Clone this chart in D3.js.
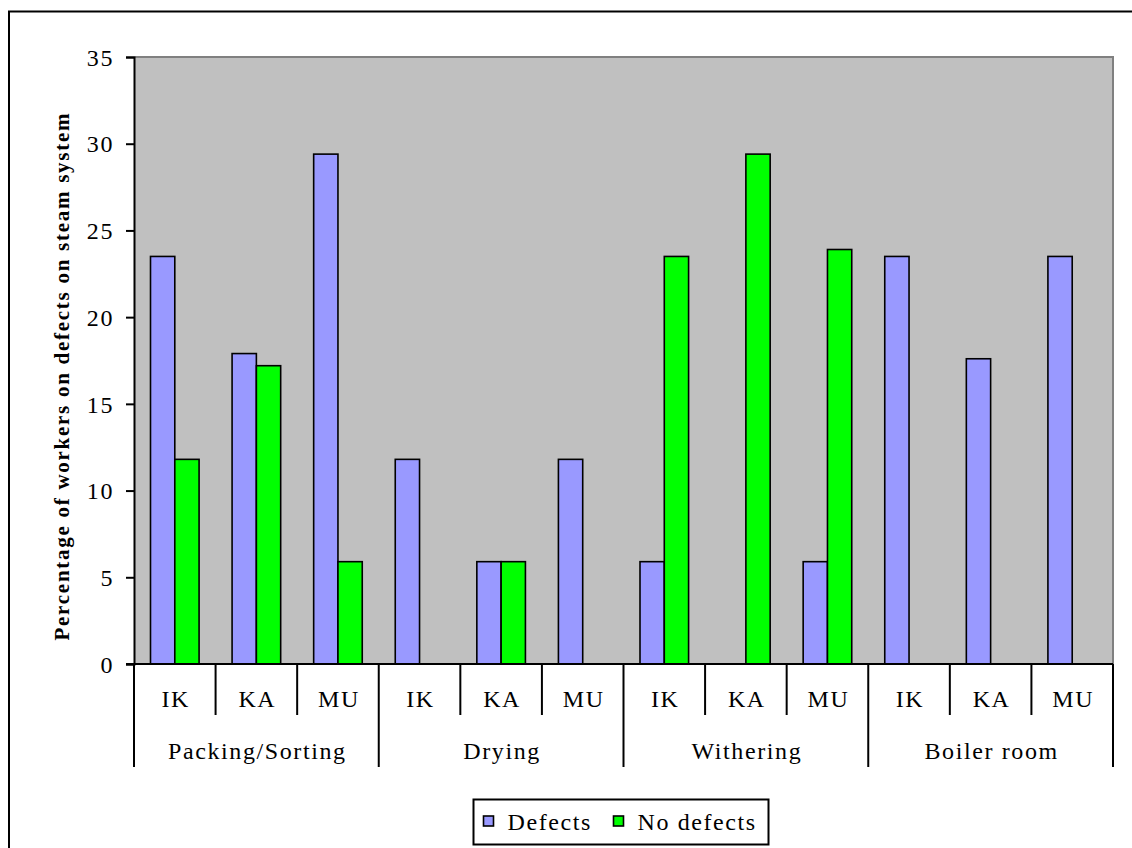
<!DOCTYPE html>
<html>
<head>
<meta charset="utf-8">
<script src="https://cdn.jsdelivr.net/npm/d3@7"></script>
<style>
  html, body { margin: 0; padding: 0; background: #fff; }
  svg { display: block; }
  svg text { font-family: "Liberation Serif", Tinos, "Times New Roman", serif; fill: #000; }
</style>
</head>
<body>
<svg id="chart" width="1132" height="848"></svg>
<script>
// Work areas and sites
const groups = ["Packing/Sorting", "Drying", "Withering", "Boiler room"];
const sites = ["IK", "KA", "MU"];
const seriesNames = ["Defects", "No defects"];
const seriesColors = ["#9999ff", "#00ff00"];

// Percentage of workers per site, in group order (IK, KA, MU for each area)
const defects   = [23.5, 17.9, 29.4,  11.8, 5.9, 11.8,  5.9, 0, 5.9,    23.5, 17.6, 23.5];
const noDefects = [11.8, 17.2, 5.9,   0,    5.9, 0,     23.5, 29.4, 23.9, 0, 0, 0];

const yTicks = [0, 5, 10, 15, 20, 25, 30, 35];

const FONT = '"Liberation Serif", Tinos, "Times New Roman", serif';
const LABEL_SIZE = "24px";
const LABEL_SPACING = "1.6px";

const svg = d3.select("#chart");
const plot = { left: 134, right: 1113, top: 57, bottom: 664 };

// Outer chart frame
svg.append("rect")
  .attr("x", 9).attr("y", 11.5)
  .attr("width", 1140).attr("height", 860)
  .attr("fill", "#fff").attr("stroke", "#000").attr("stroke-width", 2);

// Flattened category keys
const cats = [];
groups.forEach((g, gi) => sites.forEach((s, si) => cats.push({ group: g, site: s, key: g + "|" + s, i: gi * 3 + si })));

const x = d3.scaleBand().domain(cats.map(c => c.key)).range([plot.left, plot.right]).padding(0);
const xs = d3.scaleBand().domain(seriesNames)
  .range([16.5, x.bandwidth() - 16.5]).padding(0);
const y = d3.scaleLinear().domain([0, 35]).range([plot.bottom, plot.top]);

// Plot background
svg.append("rect")
  .attr("x", plot.left).attr("y", plot.top)
  .attr("width", plot.right - plot.left).attr("height", plot.bottom - plot.top)
  .attr("fill", "#c0c0c0");
// grey top and right edges
svg.append("path")
  .attr("d", `M${plot.left},${plot.top}H${plot.right}V${plot.bottom}`)
  .attr("fill", "none").attr("stroke", "#808080").attr("stroke-width", 2);

// Bars
const values = [defects, noDefects];
const barG = svg.append("g");
seriesNames.forEach((name, si) => {
  barG.selectAll(null)
    .data(cats)
    .enter().append("rect")
    .attr("x", d => x(d.key) + xs(name))
    .attr("width", xs.bandwidth())
    .attr("y", d => y(values[si][d.i]))
    .attr("height", d => y(0) - y(values[si][d.i]))
    .attr("fill", seriesColors[si])
    .attr("stroke", "#000").attr("stroke-width", 1.6);
});

// Y axis
const yAxis = d3.axisLeft(y).tickValues(yTicks).tickSize(8).tickPadding(12).tickFormat(d3.format("d"));
const yg = svg.append("g").attr("transform", `translate(${plot.left},0)`).call(yAxis)
  .attr("font-family", FONT).attr("font-size", 24);
yg.select(".domain").attr("stroke", "#000").attr("stroke-width", 2);
yg.selectAll(".tick line").attr("stroke", "#000").attr("stroke-width", 2);
yg.selectAll(".tick text")
  .style("font-family", FONT)
  .style("font-size", LABEL_SIZE).style("letter-spacing", LABEL_SPACING)
  .attr("dy", "0.34em");

// X axis baseline
svg.append("line")
  .attr("x1", plot.left - 8).attr("x2", plot.right)
  .attr("y1", plot.bottom).attr("y2", plot.bottom)
  .attr("stroke", "#000").attr("stroke-width", 2);

// Category separators: short for sites, long for area boundaries
const bounds = cats.map(c => c.i).concat([cats.length]);
svg.append("g").selectAll("line")
  .data(bounds)
  .enter().append("line")
  .attr("x1", i => i < cats.length ? x(cats[i].key) : plot.right)
  .attr("x2", i => i < cats.length ? x(cats[i].key) : plot.right)
  .attr("y1", plot.bottom)
  .attr("y2", i => i % 3 === 0 ? 767 : 715)
  .attr("stroke", "#000").attr("stroke-width", 2);

// Site labels
svg.append("g").selectAll("text")
  .data(cats)
  .enter().append("text")
  .attr("x", d => x(d.key) + x.bandwidth() / 2 + 1)
  .attr("y", 707)
  .attr("text-anchor", "middle")
  .style("font-family", FONT)
  .style("font-size", LABEL_SIZE).style("letter-spacing", LABEL_SPACING)
  .text(d => d.site);

// Area labels
svg.append("g").selectAll("text")
  .data(groups)
  .enter().append("text")
  .attr("x", (g, gi) => x(cats[gi * 3].key) + x.bandwidth() * 1.5 + 1)
  .attr("y", 759)
  .attr("text-anchor", "middle")
  .style("font-family", FONT)
  .style("font-size", LABEL_SIZE).style("letter-spacing", LABEL_SPACING)
  .text(g => g);

// Y axis title
svg.append("text")
  .attr("transform", "translate(69,377) rotate(-90)")
  .attr("text-anchor", "middle")
  .attr("textLength", 527).attr("lengthAdjust", "spacing")
  .style("font-family", FONT)
  .style("font-size", "21px").style("font-weight", "bold")
  .text("Percentage of workers on defects on steam system");

// Legend
const lg = svg.append("g");
lg.append("rect")
  .attr("x", 473.5).attr("y", 799.5).attr("width", 295).attr("height", 45)
  .attr("fill", "#fff").attr("stroke", "#000").attr("stroke-width", 2);
const legendX = [483.5, 613.5];
seriesNames.forEach((name, i) => {
  lg.append("rect")
    .attr("x", legendX[i]).attr("y", 816).attr("width", 10).attr("height", 10)
    .attr("fill", seriesColors[i]).attr("stroke", "#000").attr("stroke-width", 1.6);
  lg.append("text")
    .attr("x", legendX[i] + 24).attr("y", 830)
    .style("font-family", FONT)
    .style("font-size", LABEL_SIZE).style("letter-spacing", LABEL_SPACING)
    .text(name);
});
</script>
</body>
</html>
